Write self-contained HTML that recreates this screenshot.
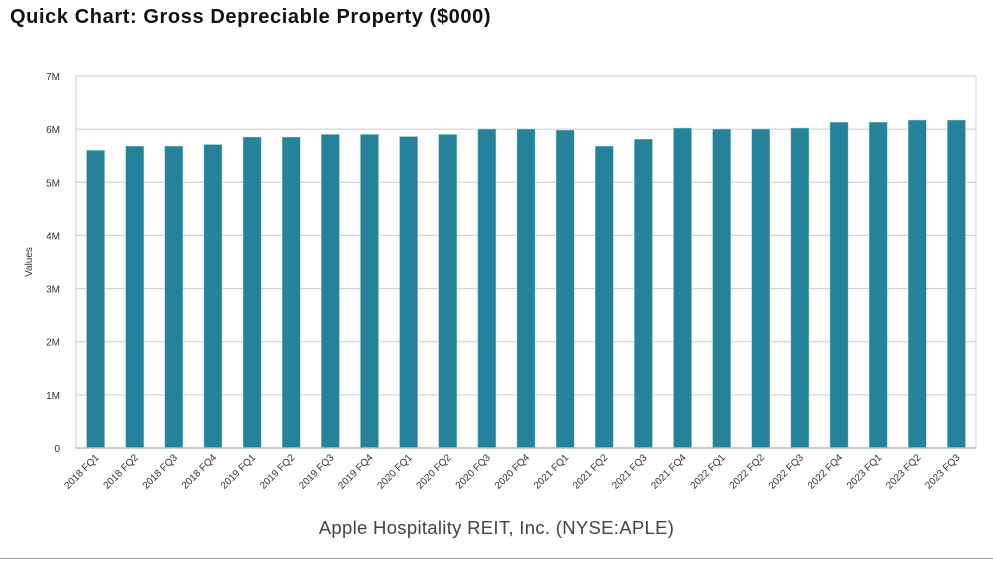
<!DOCTYPE html>
<html><head><meta charset="utf-8"><style>
body{margin:0;background:#fff;font-family:"Liberation Sans",sans-serif;}
#wrap{position:relative;width:993px;height:565px;overflow:hidden;}
#title{position:absolute;left:10px;top:6px;font-size:20px;letter-spacing:0.6px;font-weight:bold;color:#111;}
#footer{position:absolute;left:0;width:993px;top:517px;text-align:center;font-size:18.5px;letter-spacing:0.3px;color:#444;}
#rule{position:absolute;left:0;top:558px;width:993px;height:1px;background:#999;}
</style></head><body>
<div id="wrap">
<div id="title">Quick Chart: Gross Depreciable Property ($000)</div>
<svg id="chart" width="993" height="565" style="position:absolute;left:0;top:0"></svg>
<div id="footer">Apple Hospitality REIT, Inc. (NYSE:APLE)</div>
<div id="rule"></div>
</div>
<script>
const categories=["2018 FQ1","2018 FQ2","2018 FQ3","2018 FQ4","2019 FQ1","2019 FQ2","2019 FQ3","2019 FQ4","2020 FQ1","2020 FQ2","2020 FQ3","2020 FQ4","2021 FQ1","2021 FQ2","2021 FQ3","2021 FQ4","2022 FQ1","2022 FQ2","2022 FQ3","2022 FQ4","2023 FQ1","2023 FQ2","2023 FQ3"];
const values=[5.60,5.68,5.68,5.71,5.85,5.85,5.90,5.90,5.86,5.90,6.00,6.00,5.98,5.68,5.81,6.02,6.00,6.00,6.02,6.13,6.13,6.17,6.17];
const tickValues=[0,1,2,3,4,5,6,7];
const tickLabels=["0","1M","2M","3M","4M","5M","6M","7M"];
const NS="http://www.w3.org/2000/svg";
const svg=document.getElementById('chart');
const L=76,R=976,T=76,B=448,yMax=7;
const y=v=>B-(v/yMax)*(B-T);
const band=(R-L)/categories.length;
const xc=i=>L+band*(i+0.5);
function mk(tag,attrs){const e=document.createElementNS(NS,tag);for(const k in attrs)e.setAttribute(k,attrs[k]);svg.appendChild(e);return e;}
tickValues.forEach((v,i)=>{
  const g=mk('line',{x1:L,x2:R,y1:y(v),y2:y(v),stroke:'#ccc','stroke-width':1});
  
  
  const t=mk('text',{x:L-16,y:y(v)+4,'text-anchor':'end','font-size':10,fill:'#333','font-family':'Liberation Sans, sans-serif'});
  t.textContent=tickLabels[i];
  
  
});
const frame=mk('rect',{x:L,y:T,width:R-L,height:B-T,fill:'none',stroke:'#ccc','stroke-width':1});


const yt=mk('text',{x:32,y:(T+B)/2,'text-anchor':'middle','font-size':10,fill:'#333',transform:`rotate(-90 32 ${(T+B)/2})`,'font-family':'Liberation Sans, sans-serif'});
yt.textContent='Values';


categories.forEach((c,i)=>{
  const w=18;
  const b=mk('rect',{x:xc(i)-w/2,y:y(values[i]),width:w,height:B-y(values[i]),fill:'#24829a',stroke:'#8fc0cc','stroke-width':0.5});
  
  
  const tx=xc(i)+4,ty=B+10;
  const t=mk('text',{x:tx,y:ty,'text-anchor':'end','font-size':10,fill:'#333',transform:`rotate(-45 ${tx} ${ty})`,'font-family':'Liberation Sans, sans-serif'});
  t.textContent=c;
  
  
});
const ax=mk('line',{x1:L,x2:R,y1:B,y2:B,stroke:'#bbb','stroke-width':1.5});


</script>
</body></html>
